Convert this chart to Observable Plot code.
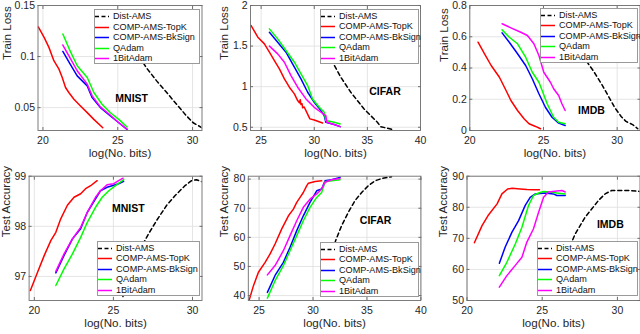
<!DOCTYPE html>
<html>
<head>
<meta charset="utf-8">
<script src="https://cdn.jsdelivr.net/npm/d3@7"></script>
<script src="https://cdn.jsdelivr.net/npm/@observablehq/plot@0.6"></script>
<style>
  html, body { margin: 0; padding: 0; background: #fff; }
  #wrap { position: relative; width: 640px; height: 334px; overflow: hidden; font-family: "Liberation Sans", Arial, Helvetica, sans-serif; }
  #wrap svg { position: absolute; left: 0; top: 0; }
  .legend { position: absolute; background: #fff; border: 1px solid #9a9a9a; box-sizing: border-box; z-index: 5; }
  .legend .row { position: absolute; left: 0; height: 10px; font-size: 9.1px; line-height: 10px; color: #111; white-space: nowrap; }
  .legend .row svg { position: absolute; left: 2px; top: 0; }
  .legend .row span { position: absolute; left: 18px; top: 0; }
</style>
</head>
<body>
<div id="wrap"></div>
<script>
// ---------------- DATA ----------------
const methods = ["Dist-AMS", "COMP-AMS-TopK", "COMP-AMS-BkSign", "QAdam", "1BitAdam"];

// Train loss, MNIST  [log(No. bits), loss]
const mnistLossDist  = [[25.4,0.130],[25.9,0.115],[26.4,0.101],[26.9,0.0893],[27.6,0.0762],[28.27,0.0648],[28.93,0.0533],[29.6,0.0418],[30.04,0.0352],[30.63,0.0303]];
const mnistLossTopK  = [[19.69,0.129],[20.07,0.119],[20.4,0.109],[20.73,0.096],[21.07,0.0877],[21.29,0.0795],[21.51,0.0697],[21.73,0.0648],[22.07,0.0582],[22.51,0.0516],[22.96,0.0451],[23.4,0.0385],[24.0,0.0303]];
const mnistLossBk    = [[21.33,0.105],[21.8,0.093],[22.29,0.0811],[22.96,0.0713],[23.29,0.0598],[23.84,0.050],[24.51,0.0418],[25.07,0.0352],[25.62,0.0287]];
const mnistLossQ     = [[21.33,0.1221],[21.8,0.106],[22.29,0.091],[22.96,0.0795],[23.4,0.0648],[23.95,0.0533],[24.51,0.045],[25.07,0.0385],[25.62,0.031]];
const mnistLoss1Bit  = [[21.33,0.1113],[21.8,0.099],[22.29,0.0861],[22.96,0.073],[23.29,0.0615],[23.84,0.0507],[24.51,0.0425],[25.07,0.0352],[25.62,0.029]];

// Train loss, CIFAR
const cifarLossDist  = [[30.7,1.75],[31.2,1.50],[31.81,1.281],[32.5,1.116],[33.44,0.931],[34.06,0.829],[34.69,0.726],[35.31,0.644],[35.94,0.562],[36.25,0.508],[36.8,0.49],[37.3,0.475]];
const cifarLossTopK  = [[24.06,1.753],[24.69,1.61],[25.31,1.527],[25.78,1.425],[26.25,1.322],[26.72,1.219],[27.19,1.096],[27.66,0.993],[28.13,0.911],[28.44,0.829],[28.6,0.80],[28.68,0.84],[28.75,0.78],[28.85,0.79],[28.91,0.74],[29.05,0.75],[29.22,0.705],[29.44,0.644],[29.59,0.603],[30.0,0.59],[30.78,0.553]];
const cifarLossBk    = [[25.78,1.671],[26.56,1.548],[27.34,1.425],[28.13,1.24],[28.75,1.096],[29.38,0.931],[30.0,0.808],[30.63,0.705],[30.94,0.644],[31.09,0.561],[31.88,0.533],[32.44,0.508]];
const cifarLossQ     = [[25.78,1.712],[26.56,1.589],[27.34,1.445],[28.13,1.301],[28.75,1.157],[29.38,1.014],[29.84,0.849],[30.47,0.746],[30.94,0.685],[31.09,0.582],[31.88,0.561],[32.44,0.541]];
const cifarLoss1Bit  = [[25.78,1.499],[26.56,1.404],[27.19,1.301],[27.81,1.137],[28.44,0.993],[29.22,0.849],[30.0,0.746],[30.63,0.685],[31.09,0.644],[31.19,0.561],[31.88,0.533],[32.44,0.508]];

// Train loss, IMDB
const imdbLossDist   = [[27.0,0.60],[27.5,0.52],[28.04,0.427],[28.37,0.384],[28.93,0.299],[29.38,0.224],[29.82,0.149],[30.27,0.09],[30.6,0.058],[31.05,0.038],[31.4,0.011]];
const imdbLossTopK   = [[20.56,0.565],[21.0,0.491],[21.45,0.416],[22.01,0.341],[22.46,0.256],[22.79,0.192],[23.24,0.128],[23.68,0.075],[24.02,0.043],[24.46,0.026],[24.8,0.011]];
const imdbLossBk     = [[22.19,0.625],[22.68,0.565],[23.24,0.491],[23.79,0.416],[24.24,0.331],[24.69,0.235],[25.13,0.149],[25.58,0.085],[26.03,0.047],[26.47,0.032]];
const imdbLossQ      = [[22.19,0.644],[22.68,0.597],[23.24,0.555],[23.79,0.469],[24.24,0.373],[24.69,0.309],[24.91,0.256],[25.25,0.171],[25.69,0.085],[26.03,0.053],[26.47,0.043]];
const imdbLoss1Bit   = [[22.19,0.683],[22.79,0.657],[23.46,0.629],[23.91,0.608],[24.35,0.555],[24.69,0.48],[25.02,0.373],[25.47,0.309],[25.69,0.267],[26.03,0.224],[26.25,0.171],[26.47,0.128]];

// Test accuracy, MNIST
const mnistAccDist   = [[25.6,96.6],[26.3,97.2],[26.7,97.55],[27.22,97.85],[27.74,98.12],[28.37,98.42],[28.89,98.61],[29.52,98.81],[29.94,98.91],[30.25,98.93],[30.6,98.89]];
const mnistAccTopK   = [[19.75,96.72],[20.21,97.09],[20.63,97.42],[21.05,97.72],[21.36,97.88],[21.67,98.15],[22.09,98.42],[22.51,98.58],[22.93,98.65],[23.24,98.75],[23.56,98.81],[23.97,98.91]];
const mnistAccBk     = [[21.36,97.07],[21.88,97.42],[22.41,97.75],[22.93,97.95],[23.35,98.28],[23.87,98.55],[24.18,98.71],[24.6,98.78],[24.92,98.81],[25.33,98.85],[25.65,98.9]];
const mnistAccQ      = [[21.36,96.82],[21.88,97.15],[22.41,97.45],[22.93,97.78],[23.35,98.08],[23.87,98.38],[24.29,98.58],[24.71,98.71],[25.13,98.81],[25.65,98.93]];
const mnistAcc1Bit   = [[21.36,97.1],[21.88,97.45],[22.41,97.75],[22.93,97.98],[23.35,98.28],[23.87,98.58],[24.18,98.71],[24.6,98.83],[25.02,98.85],[25.33,98.91],[25.61,98.96]];

// Test accuracy, CIFAR
const cifarAccDist   = [[31.0,44],[31.3,49],[31.7,54],[32.1,58.9],[32.65,64],[33.27,68.6],[33.89,72.6],[34.51,75.4],[35.12,77.7],[35.74,79.4],[36.36,80.2],[37.28,80.8]];
const cifarAccTopK   = [[24.07,38.3],[24.48,43.4],[24.94,48.0],[25.56,51.4],[26.02,54.3],[26.48,57.7],[27.1,62.9],[27.72,67.4],[28.18,69.7],[28.49,72.0],[28.8,73.7],[29.1,75.4],[29.41,77.7],[29.57,78.6],[30.19,79.2],[30.8,79.4]];
const cifarAccBk     = [[25.77,41.1],[26.48,46.9],[27.25,51.4],[27.87,56.6],[28.49,62.3],[29.1,67.4],[29.72,72.0],[30.34,76.0],[30.8,76.6],[31.11,79.4],[31.73,79.8],[32.5,80.6]];
const cifarAccQ      = [[25.77,39.1],[26.48,45.1],[27.25,50.3],[27.87,55.4],[28.49,60.6],[29.1,65.7],[29.72,70.3],[30.34,73.7],[30.8,75.4],[31.11,79.1],[31.73,79.4],[32.5,79.8]];
const cifarAcc1Bit   = [[25.77,47.1],[26.48,50.3],[27.25,55.4],[27.87,60.6],[28.49,65.7],[29.1,70.3],[29.72,73.1],[30.34,74.9],[30.8,76.6],[31.11,78.9],[31.73,79.8],[32.5,80.2]];

// Test accuracy, IMDB
const imdbAccDist    = [[26.0,57],[26.4,62],[26.8,67],[27.19,71.4],[27.52,74.1],[27.85,76.8],[28.3,79.5],[28.74,82.2],[29.18,84.3],[29.62,85.4],[30.18,85.4],[30.84,85.4],[31.46,85.1]];
const imdbAccTopK    = [[20.49,68.6],[21.0,74.1],[21.44,77.6],[22.0,81.1],[22.32,84.3],[22.7,85.9],[23.0,86.1],[23.54,85.9],[23.98,85.7],[24.42,85.6],[24.82,85.6]];
const imdbAccBk      = [[22.15,62.0],[22.54,67.2],[22.99,72.0],[23.43,75.7],[23.87,80.6],[24.2,83.2],[24.54,84.3],[25.2,84.6],[25.75,84.3],[25.97,83.8],[26.53,83.8]];
const imdbAccQ       = [[22.15,58.0],[22.65,62.3],[23.21,68.2],[23.65,73.6],[24.09,80.6],[24.42,83.8],[24.76,84.6],[25.09,85.1],[25.53,84.9],[25.97,84.6],[26.53,84.3]];
const imdbAcc1Bit    = [[22.15,54.3],[22.65,58.0],[23.21,61.3],[23.65,63.9],[23.98,68.8],[24.42,73.1],[24.76,78.4],[25.09,83.2],[25.42,84.9],[25.97,85.2],[26.31,85.4],[26.53,84.9]];

// tick values
const xTicks2030 = [20, 25, 30];
const xTicks2540 = [25, 30, 35, 40];
const yTicksMnistLoss = [0.05, 0.1, 0.15];
const yTicksCifarLoss = [0.5, 1, 1.5, 2];
const yTicksImdbLoss  = [0, 0.2, 0.4, 0.6, 0.8];
const yTicksMnistAcc  = [97, 98, 99];
const yTicksCifarAcc  = [40, 50, 60, 70, 80];
const yTicksImdbAcc   = [50, 60, 70, 80, 90];

// dataset name annotations (data coordinates)
const datasetNames = ["MNIST", "CIFAR", "IMDB", "MNIST", "CIFAR", "IMDB"];
const datasetNamePos = [[25.93,0.059],[36.66,0.942],[28.26,0.128],[25.94,98.35],[35.8,65.7],[29.53,74.4]];

// ---------------- STYLE / LAYOUT ----------------
const colors = ["#000000", "#ff0000", "#0000ff", "#00ff00", "#ff00ff"];
const W = 640, H = 334;
const panels = [
  {series:[mnistLossDist,mnistLossTopK,mnistLossBk,mnistLossQ,mnistLoss1Bit], xd:[19.67,30.63], yd:[0.0276,0.15], xt:xTicks2030, yt:yTicksMnistLoss, ylab:"Train Loss",
   fl:37.5, fr:201.5, ft:5, fb:130, ylx:-31, yly:-8, leg:{left:94, top:9}},
  {series:[cifarLossDist,cifarLossTopK,cifarLossBk,cifarLossQ,cifarLoss1Bit], xd:[24,40], yd:[0.46,2], xt:xTicks2540, yt:yTicksCifarLoss, ylab:"Train Loss",
   fl:250, fr:420, ft:5, fb:130, ylx:-26, yly:-8, leg:{left:320, top:8.5}},
  {series:[imdbLossDist,imdbLossTopK,imdbLossBk,imdbLossQ,imdbLoss1Bit], xd:[20,31.55], yd:[0,0.8], xt:xTicks2030, yt:yTicksImdbLoss, ylab:"Train Loss",
   fl:469.3, fr:639.5, ft:5, fb:130, ylx:-26, yly:-6, leg:{left:540, top:7.5}},
  {series:[mnistAccDist,mnistAccTopK,mnistAccBk,mnistAccQ,mnistAcc1Bit], xd:[19.67,30.6], yd:[96.52,99], xt:xTicks2030, yt:yTicksMnistAcc, ylab:"Test Accuracy",
   fl:28.6, fr:201.5, ft:175.7, fb:300, ylx:-22.6, yly:-1, leg:{left:97, top:240.5}},
  {series:[cifarAccDist,cifarAccTopK,cifarAccBk,cifarAccQ,cifarAcc1Bit], xd:[24,40], yd:[38.3,81], xt:xTicks2540, yt:yTicksCifarAcc, ylab:"Test Accuracy",
   fl:247.8, fr:420.4, ft:175.7, fb:300, ylx:-23.8, yly:-1, leg:{left:320, top:241.5}},
  {series:[imdbAccDist,imdbAccTopK,imdbAccBk,imdbAccQ,imdbAcc1Bit], xd:[20,31.5], yd:[50,90], xt:xTicks2030, yt:yTicksImdbAcc, ylab:"Test Accuracy",
   fl:466.5, fr:639.5, ft:175.7, fb:300, ylx:-23.5, yly:-1, leg:{left:537, top:240.5}}
];

const wrap = document.getElementById("wrap");
const FONT = "Liberation Sans, Arial, Helvetica, sans-serif";
const TXT = "#262626";

panels.forEach((p, pi) => {
  const lines = p.series.map((s, i) => Plot.line(s, {
    x: d => d[0], y: d => d[1], stroke: colors[i], strokeWidth: 1.5,
    strokeDasharray: i === 0 ? "4,3" : null, clip: true
  }));
  const pos = datasetNamePos[pi];
  const chart = Plot.plot({
    width: W, height: H,
    marginLeft: p.fl, marginRight: W - p.fr, marginTop: p.ft, marginBottom: H - p.fb,
    style: {fontFamily: FONT, background: "transparent", overflow: "visible"},
    x: {domain: p.xd, label: null},
    y: {domain: p.yd, label: null},
    marks: [
      Plot.gridX(p.xt, {stroke: "#dedede", strokeOpacity: 1, strokeWidth: 0.8}),
      Plot.gridY(p.yt, {stroke: "#dedede", strokeOpacity: 1, strokeWidth: 0.8}),
      ...lines,
      Plot.text([{x: pos[0], y: pos[1], t: datasetNames[pi]}], {x: "x", y: "y", text: "t", fontWeight: "bold", fontSize: 10.5, fill: "#000"}),
      Plot.frame({stroke: "#6e6e6e", strokeWidth: 0.9}),
      Plot.axisX(p.xt, {tickSize: 0, tickPadding: 6.5, fontSize: 10.5, fill: TXT, label: null}),
      Plot.axisY(p.yt, {tickSize: 0, tickPadding: 3, fontSize: 10.5, fill: TXT, label: null, tickFormat: d => String(d)}),
      Plot.axisX(p.xt, {tickSize: -3, tickFormat: () => "", label: null, stroke: "#6e6e6e"}),
      Plot.axisX(p.xt, {anchor: "top", tickSize: -3, tickFormat: () => "", label: null, stroke: "#6e6e6e"}),
      Plot.axisY(p.yt, {tickSize: -3, tickFormat: () => "", label: null, stroke: "#6e6e6e"}),
      Plot.axisY(p.yt, {anchor: "right", tickSize: -3, tickFormat: () => "", label: null, stroke: "#6e6e6e"}),
      Plot.text(["log(No. bits)"], {frameAnchor: "bottom", dy: 26, fontSize: 11.6, fill: TXT}),
      Plot.text([p.ylab], {frameAnchor: "left", rotate: -90, dx: p.ylx, dy: p.yly, fontSize: 11.6, fill: TXT})
    ]
  });
  wrap.appendChild(chart);

  // legend box
  const lg = document.createElement("div");
  lg.className = "legend";
  const lw = p.fr - 1.5 - p.leg.left;
  lg.style.left = p.leg.left + "px";
  lg.style.top = p.leg.top + "px";
  lg.style.width = lw + "px";
  lg.style.height = "55px";
  methods.forEach((m, i) => {
    const row = document.createElement("div");
    row.className = "row";
    row.style.top = (1 + i * 10.5) + "px";
    row.style.width = (lw - 2) + "px";
    row.innerHTML = `<svg width="16" height="10"><line x1="0" x2="14" y1="5.5" y2="5.5" stroke="${colors[i]}" stroke-width="1.5" ${i === 0 ? 'stroke-dasharray="4,2.5"' : ''}/></svg><span>${m}</span>`;
    lg.appendChild(row);
  });
  wrap.appendChild(lg);
});
</script>
</body>
</html>
